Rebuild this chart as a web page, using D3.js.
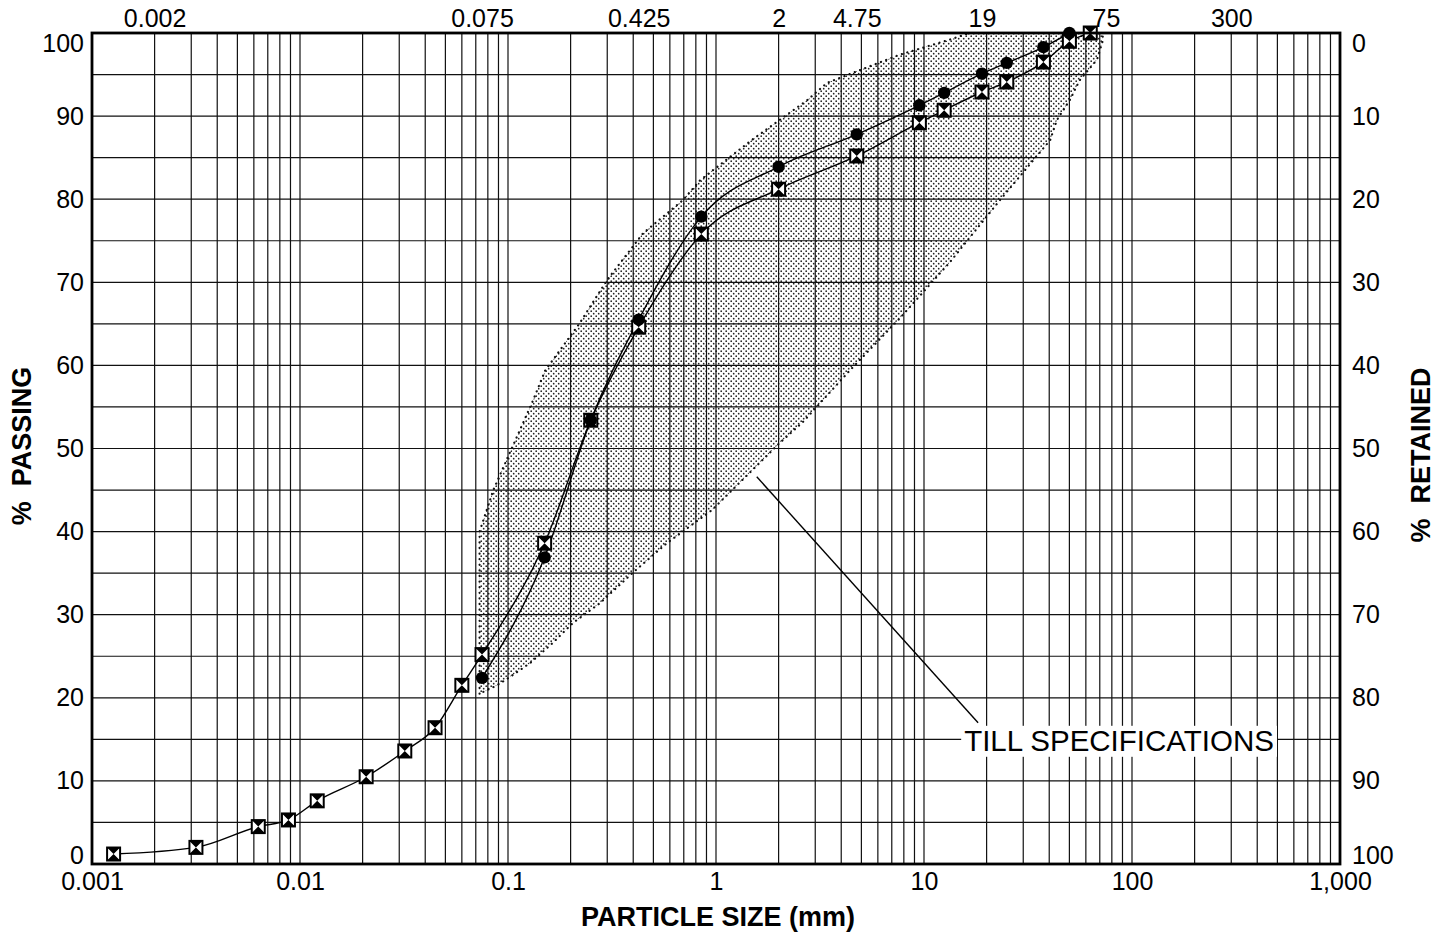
<!DOCTYPE html>
<html>
<head>
<meta charset="utf-8">
<script src="https://cdn.jsdelivr.net/npm/d3@7"></script>
<style>
  html, body { margin: 0; padding: 0; background: #fff; }
  svg { display: block; }
  text { font-family: "Liberation Sans", Arial, Helvetica, sans-serif; fill: #000; }
</style>
</head>
<body>
<svg id="chart" width="1447" height="935"></svg>
<script>
// Sieve sizes (mm) and percent passing for the two gradation samples
const sieveA = [0.075, 0.15, 0.25, 0.425, 0.85, 2, 4.75, 9.5, 12.5, 19, 25, 37.5, 50];
const passingA = [22.4, 36.9, 53.4, 65.5, 77.9, 83.9, 87.8, 91.3, 92.8, 95.1, 96.4, 98.3, 100];

const sieveB = [0.00127, 0.00316, 0.0063, 0.0088, 0.0121, 0.0208, 0.0319, 0.0446, 0.060, 0.075,
                0.15, 0.25, 0.425, 0.85, 2, 4.75, 9.5, 12.5, 19, 25, 37.5, 50, 63];
const passingB = [1.2, 2.0, 4.5, 5.3, 7.6, 10.5, 13.6, 16.4, 21.5, 25.2,
                  38.6, 53.4, 64.6, 75.8, 81.2, 85.2, 89.2, 90.7, 92.9, 94.1, 96.5, 99.0, 100];

// Till specification envelope: fine limit (bottom to top) and coarse limit (top to bottom)
const fineSize = [0.073, 0.073, 0.085, 0.1, 0.114, 0.132, 0.151, 0.22, 0.30, 0.446, 0.694, 0.84, 1.5, 2.74, 3.42, 7.67, 13.3, 16.6];
const finePct  = [20.5, 40, 45, 49, 52.2, 55.8, 59.4, 65, 70.3, 75.9, 79.9, 82.3, 87.2, 91.9, 94.0, 97.4, 99.2, 100];
const coarseSize = [72, 72.6, 67.9, 56, 50.4, 43.5, 40.4, 23.2, 13.3, 7.67, 4.4, 2.62, 2.03, 0.957, 0.58, 0.40, 0.277, 0.205, 0.164, 0.128, 0.102, 0.0886, 0.073];
const coarsePct  = [100, 99.2, 96.8, 94.3, 92, 89.5, 87.1, 79.9, 72.4, 65.7, 59.4, 53.2, 50.7, 42.6, 38.6, 35.1, 31.4, 29, 26.6, 24.2, 22.5, 21.5, 20.5];

// Axis tick labels
const bottomTicks = [0.001, 0.01, 0.1, 1, 10, 100, 1000];
const bottomTickLabels = ["0.001", "0.01", "0.1", "1", "10", "100", "1,000"];
const topTicks = [0.002, 0.075, 0.425, 2, 4.75, 19, 75, 300];
const topTickLabels = ["0.002", "0.075", "0.425", "2", "4.75", "19", "75", "300"];
const passingTicks = [0, 10, 20, 30, 40, 50, 60, 70, 80, 90, 100];
const retainedTicks = [0, 10, 20, 30, 40, 50, 60, 70, 80, 90, 100];

// Annotation
const noteText = "TILL SPECIFICATIONS";
const noteFrom = [1.57, 46.6];
const noteTo = [18.2, 17.0];
const noteAt = [15.6, 14.9];

const svg = d3.select("#chart");
const L = 92, R = 1340, T = 33, B = 864;

const x = d3.scaleLog().domain([0.001, 1000]).range([L, R]);
const y = d3.scaleLinear().domain([0, 100]).range([B, T]);
const yRet = d3.scaleLinear().domain([0, 100]).range([T, B]);

// Stipple pattern for the specification envelope
const defs = svg.append("defs");
const pat = defs.append("pattern").attr("id", "stipple")
  .attr("patternUnits", "userSpaceOnUse").attr("width", 5).attr("height", 5);
pat.append("rect").attr("width", 5).attr("height", 5).attr("fill", "#fff");
pat.append("circle").attr("cx", 1.2).attr("cy", 1.2).attr("r", 0.85).attr("fill", "#222");
pat.append("circle").attr("cx", 3.7).attr("cy", 3.7).attr("r", 0.85).attr("fill", "#222");

const clip = defs.append("clipPath").attr("id", "plotclip");
clip.append("rect").attr("x", L).attr("y", T).attr("width", R - L).attr("height", B - T);

// Envelope
const envPts = fineSize.map((s, i) => [x(s), y(finePct[i])])
  .concat(coarseSize.map((s, i) => [x(s), y(coarsePct[i])]));
const envLine = d3.line().curve(d3.curveLinearClosed);
svg.append("path").attr("d", envLine(envPts))
  .attr("fill", "url(#stipple)").attr("stroke", "none");
svg.append("path").attr("d", envLine(envPts))
  .attr("fill", "none").attr("stroke", "#111").attr("stroke-width", 2.2)
  .attr("stroke-linecap", "round").attr("stroke-dasharray", "0.1,5.5");

// Grid
const grid = svg.append("g").attr("stroke", "#111").attr("stroke-width", 1.2);
const vLines = [];
for (let e = -3; e < 3; e++) for (let m = 1; m < 10; m++) vLines.push(m * Math.pow(10, e));
grid.selectAll("line.v").data(vLines).join("line")
  .attr("x1", d => x(d)).attr("x2", d => x(d)).attr("y1", T).attr("y2", B);
grid.selectAll("line.h").data(d3.range(5, 100, 5)).join("line")
  .attr("x1", L).attr("x2", R).attr("y1", d => y(d)).attr("y2", d => y(d));

// Gradation curves
const curve = d3.line().x(d => x(d[0])).y(d => y(d[1])).curve(d3.curveMonotoneX);
const dataA = sieveA.map((s, i) => [s, passingA[i]]);
const dataB = sieveB.map((s, i) => [s, passingB[i]]);
const curves = svg.append("g").attr("clip-path", "url(#plotclip)");
curves.append("path").attr("d", curve(dataB)).attr("fill", "none").attr("stroke", "#000").attr("stroke-width", 1.4);
curves.append("path").attr("d", curve(dataA)).attr("fill", "none").attr("stroke", "#000").attr("stroke-width", 1.4);

// Hourglass square markers
const hs = 6.5;
const mB = svg.append("g").selectAll("g").data(dataB).join("g")
  .attr("transform", d => `translate(${x(d[0])},${y(d[1])})`);
mB.append("rect").attr("x", -hs).attr("y", -hs).attr("width", 2 * hs).attr("height", 2 * hs)
  .attr("fill", "#fff").attr("stroke", "#000").attr("stroke-width", 2);
mB.append("path")
  .attr("d", `M${-hs},${-hs}L${hs},${-hs}L0,0Z M${-hs},${hs}L${hs},${hs}L0,0Z`)
  .attr("fill", "#000");

// Filled circle markers
svg.append("g").selectAll("circle").data(dataA).join("circle")
  .attr("cx", d => x(d[0])).attr("cy", d => y(d[1])).attr("r", 6.2).attr("fill", "#000");

// Annotation leader and label
svg.append("line")
  .attr("x1", x(noteFrom[0])).attr("y1", y(noteFrom[1]))
  .attr("x2", x(noteTo[0])).attr("y2", y(noteTo[1]))
  .attr("stroke", "#000").attr("stroke-width", 1.4);
const noteG = svg.append("g");
const noteBg = noteG.append("rect").attr("fill", "#fff");
const note = noteG.append("text")
  .attr("x", x(noteAt[0])).attr("y", y(noteAt[1])).attr("dy", "0.36em")
  .attr("font-size", 29.5).text(noteText);
const nb = note.node().getBBox();
noteBg.attr("x", nb.x - 3).attr("y", nb.y + 2).attr("width", nb.width + 6).attr("height", nb.height - 2);

// Frame
svg.append("rect").attr("x", L).attr("y", T).attr("width", R - L).attr("height", B - T)
  .attr("fill", "none").attr("stroke", "#000").attr("stroke-width", 2.8);

// Axes
const fs = 25;
const axB = svg.append("g").attr("transform", `translate(0,${B})`)
  .call(d3.axisBottom(x).tickValues(bottomTicks).tickFormat((d, i) => bottomTickLabels[i]).tickSize(0).tickPadding(8));
const axT = svg.append("g").attr("transform", `translate(0,${T})`)
  .call(d3.axisTop(x).tickValues(topTicks).tickFormat((d, i) => topTickLabels[i]).tickSize(0).tickPadding(6));
const axL = svg.append("g").attr("transform", `translate(${L},0)`)
  .call(d3.axisLeft(y).tickValues(passingTicks).tickSize(0).tickPadding(8));
const axR = svg.append("g").attr("transform", `translate(${R},0)`)
  .call(d3.axisRight(yRet).tickValues(retainedTicks).tickSize(0).tickPadding(12));
[axB, axT, axL, axR].forEach(a => {
  a.select(".domain").remove();
  a.selectAll("text").attr("font-size", fs).attr("font-family", '"Liberation Sans", Arial, sans-serif').attr("fill", "#000");
});
// keep end labels inside the frame height
axL.selectAll(".tick").filter(d => d === 100).select("text").attr("dy", "0.72em");
axL.selectAll(".tick").filter(d => d === 0).select("text").attr("dy", "-0.02em");
axR.selectAll(".tick").filter(d => d === 0).select("text").attr("dy", "0.72em");
axR.selectAll(".tick").filter(d => d === 100).select("text").attr("dy", "-0.02em");

// Axis titles
svg.append("text").attr("x", (L + R) / 2 + 2).attr("y", 926).attr("text-anchor", "middle")
  .attr("font-size", 27).attr("font-weight", "bold").text("PARTICLE SIZE (mm)");
svg.append("text").attr("transform", "translate(31,446) rotate(-90)").attr("text-anchor", "middle")
  .attr("font-size", 27).attr("font-weight", "bold").attr("xml:space", "preserve").text("%  PASSING");
svg.append("text").attr("transform", "translate(1430,455) rotate(-90)").attr("text-anchor", "middle")
  .attr("font-size", 27).attr("font-weight", "bold").attr("xml:space", "preserve").text("%  RETAINED");
</script>
</body>
</html>
